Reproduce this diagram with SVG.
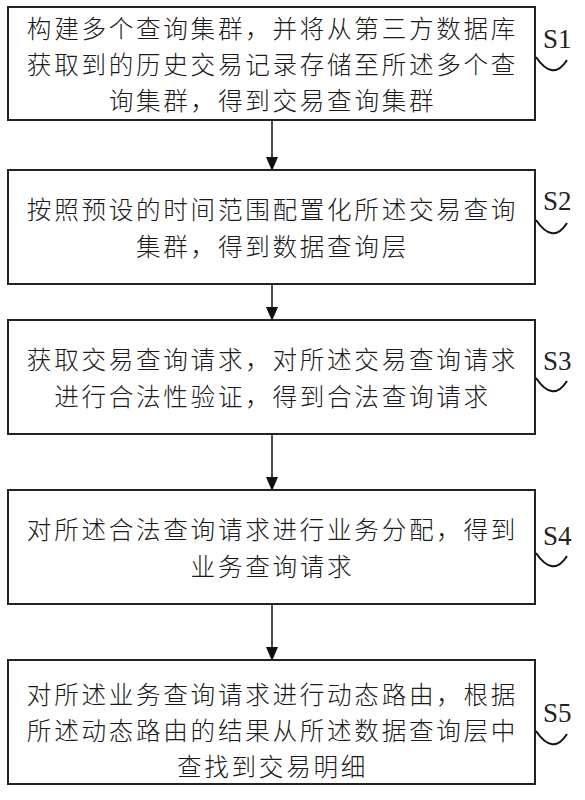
<svg xmlns="http://www.w3.org/2000/svg" width="585" height="800" viewBox="0 0 585 800">
<defs>
<style>
.box{fill:#fff;stroke:#222;stroke-width:2}
.t{font-family:"Noto Sans CJK SC","Noto Sans CJK JP",sans-serif;font-size:24.6px;letter-spacing:2.7px;font-weight:300;fill:#1a1a1a;text-anchor:middle}
.lbl{font-family:"Liberation Serif",serif;font-size:27px;fill:#222}
.arc{fill:none;stroke:#111;stroke-width:2}
.conn{stroke:#111;stroke-width:1.5;fill:none}
</style>
<marker id="ah" markerWidth="14" markerHeight="16" refX="13" refY="7" orient="auto" markerUnits="userSpaceOnUse">
<path d="M0,1 L14,7 L0,13 Z" fill="#111"/>
</marker>
</defs>
<rect width="585" height="800" fill="#fff"/>
<g id="connectors">
<line class="conn" x1="272" y1="120" x2="272" y2="170" marker-end="url(#ah)"/>
<line class="conn" x1="272" y1="284" x2="272" y2="320" marker-end="url(#ah)"/>
<line class="conn" x1="272" y1="434" x2="272" y2="490" marker-end="url(#ah)"/>
<line class="conn" x1="272" y1="604" x2="272" y2="660" marker-end="url(#ah)"/>
</g>
<g id="S1">
<rect class="box" x="8" y="7" width="527" height="113"/>
<text class="t" x="272.5" y="38">构建多个查询集群，并将从第三方数据库</text>
<text class="t" x="272.5" y="74">获取到的历史交易记录存储至所述多个查</text>
<text class="t" x="272.5" y="110">询集群，得到交易查询集群</text>
<text class="lbl" x="543" y="48">S1</text>
<path class="arc" d="M536,57 Q553,82 567,60"/>
</g>
<g id="S2">
<rect class="box" x="8" y="170" width="527" height="114"/>
<text class="t" x="272.5" y="219">按照预设的时间范围配置化所述交易查询</text>
<text class="t" x="272.5" y="256">集群，得到数据查询层</text>
<text class="lbl" x="543" y="210">S2</text>
<path class="arc" d="M536,220 Q553,245 567,223"/>
</g>
<g id="S3">
<rect class="box" x="8" y="320" width="527" height="114"/>
<text class="t" x="272.5" y="369">获取交易查询请求，对所述交易查询请求</text>
<text class="t" x="272.5" y="406">进行合法性验证，得到合法查询请求</text>
<text class="lbl" x="543" y="370">S3</text>
<path class="arc" d="M536,378 Q553,403 567,381"/>
</g>
<g id="S4">
<rect class="box" x="8" y="490" width="527" height="114"/>
<text class="t" x="272.5" y="539">对所述合法查询请求进行业务分配，得到</text>
<text class="t" x="272.5" y="576">业务查询请求</text>
<text class="lbl" x="543" y="545">S4</text>
<path class="arc" d="M536,553 Q553,578 567,556"/>
</g>
<g id="S5">
<rect class="box" x="8" y="660" width="527" height="124"/>
<text class="t" x="272.5" y="704">对所述业务查询请求进行动态路由，根据</text>
<text class="t" x="272.5" y="740">所述动态路由的结果从所述数据查询层中</text>
<text class="t" x="272.5" y="776">查找到交易明细</text>
<text class="lbl" x="543" y="722">S5</text>
<path class="arc" d="M536,731 Q553,756 567,734"/>
</g>
</svg>
